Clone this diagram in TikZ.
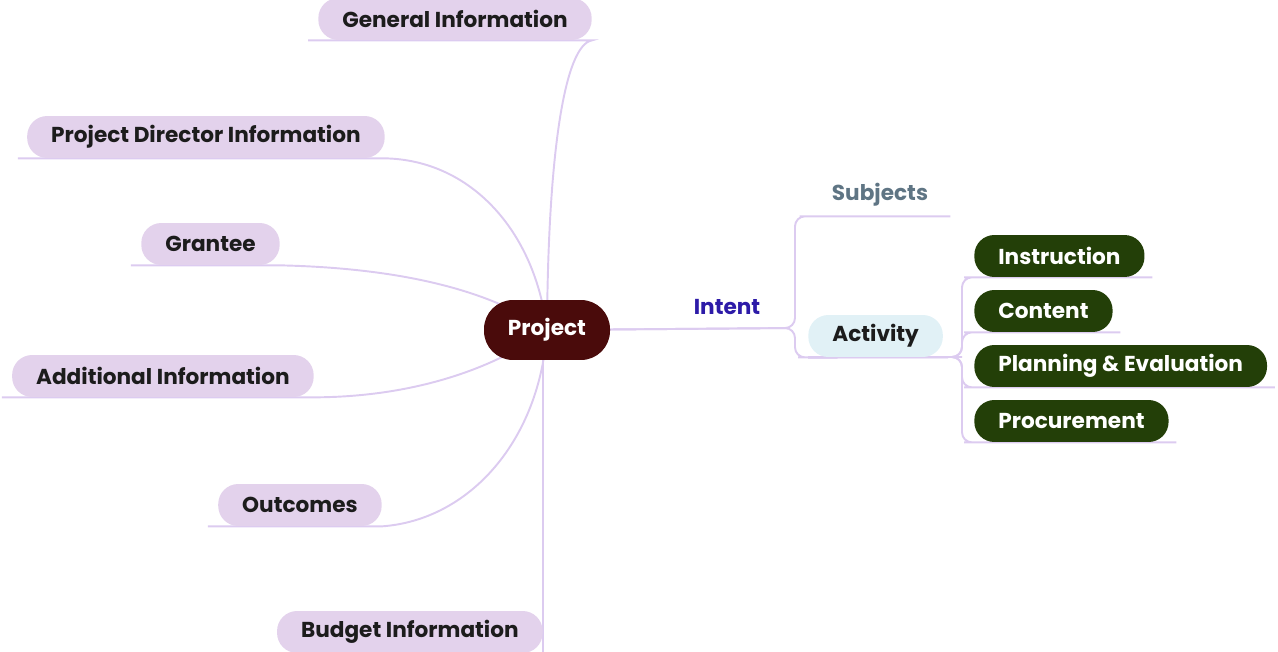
\documentclass[tikz,border=0pt]{standalone}
\usepackage{fontspec}
\setmainfont{Poppins}
\usetikzlibrary{backgrounds}
\definecolor{topicpurple}{HTML}{E3D2EC}
\definecolor{linepurple}{HTML}{DCCBF0}
\definecolor{rootred}{HTML}{4A0B0B}
\definecolor{leafgreen}{HTML}{233F08}
\definecolor{actblue}{HTML}{E1F1F6}
\definecolor{intentblue}{HTML}{2D1BA8}
\definecolor{subjgray}{HTML}{5F7584}
\definecolor{inkblack}{HTML}{1C1C1C}

\begin{document}
\begin{tikzpicture}[x=0.02cm,y=-0.02cm,
	font=\fontsize{12.3}{14}\selectfont\bfseries,
	pill/.style={rectangle, rounded corners=0.4cm, minimum height=0.84cm, inner xsep=0.48cm, inner ysep=0pt},
	topic/.style={pill, fill=topicpurple, text=inkblack, anchor=east},
	leaf/.style={pill, fill=leafgreen, text=white, anchor=west},
	branch/.style={draw=linepurple, line width=1.1pt}]
	\useasboundingbox (0,0) rectangle (1278,652);
	
	\node[pill, fill=rootred, text=white, minimum height=1.2cm, rounded corners=0.58cm] (prj) at (547,330) {Project};
	
	\node[topic] (gen) at (592,19) {General Information};
	\node[topic] (dir) at (385,137) {Project Director Information};
	\node[topic] (gra) at (280,244) {Grantee};
	\node[topic] (add) at (314,376) {Additional Information};
	\node[topic] (out) at (382,505) {Outcomes};
	\node[topic] (bud) at (543,632) {Budget Information};
	
	\node[text=intentblue] (int) at (727,307) {Intent};
	\node[text=subjgray, minimum width=2.8cm, minimum height=0.84cm] (sub) at (880,195) {Subjects};
	\node[pill, fill=actblue, text=inkblack, anchor=west] (act) at (808,336) {Activity};
	
	\node[leaf] (ins) at (974,256) {Instruction};
	\node[leaf] (con) at (974,311) {Content};
	\node[leaf] (pla) at (974,366) {Planning \& Evaluation};
	\node[leaf] (pro) at (974,421) {Procurement};
	
	\coordinate (fork) at (795,328);
	\coordinate (actfork) at (962,357);
	
	\begin{scope}[on background layer]
		% left side
		\draw[branch] ([xshift=-0.2cm]gen.south west) -- (gen.south east) .. controls (565,45) and (548,150) .. (prj.center);
		\draw[branch] ([xshift=-0.18cm]dir.south west) -- (dir.south east) .. controls (470,160) and (535,230) .. (prj.center);
		\draw[branch] ([xshift=-0.2cm]gra.south west) -- (gra.south east) .. controls (400,268) and (490,290) .. (prj.center);
		\draw[branch] ([xshift=-0.2cm]add.south west) -- (add.south east) .. controls (420,397) and (500,365) .. (prj.center);
		\draw[branch] ([xshift=-0.2cm]out.south west) -- (out.south east) .. controls (470,520) and (540,440) .. (prj.center);
		\draw[branch] ([xshift=-0.2cm]bud.south west) -- (bud.south east) -- (bud.south east |- prj.center);
		% right side
		\draw[branch, rounded corners=0.2cm] (prj.center) -- (fork) |- (sub.south west) -- (sub.south east);
		\draw[branch, rounded corners=0.2cm] (prj.center) -- (fork) |- (act.south west) -- (actfork);
		\foreach \c in {ins,con,pla,pro}
			\draw[branch, rounded corners=0.2cm] (act.south west) -- (actfork) |- (\c.south west) -- ([xshift=0.15cm]\c.south east);
	\end{scope}
\end{tikzpicture}
\end{document}
